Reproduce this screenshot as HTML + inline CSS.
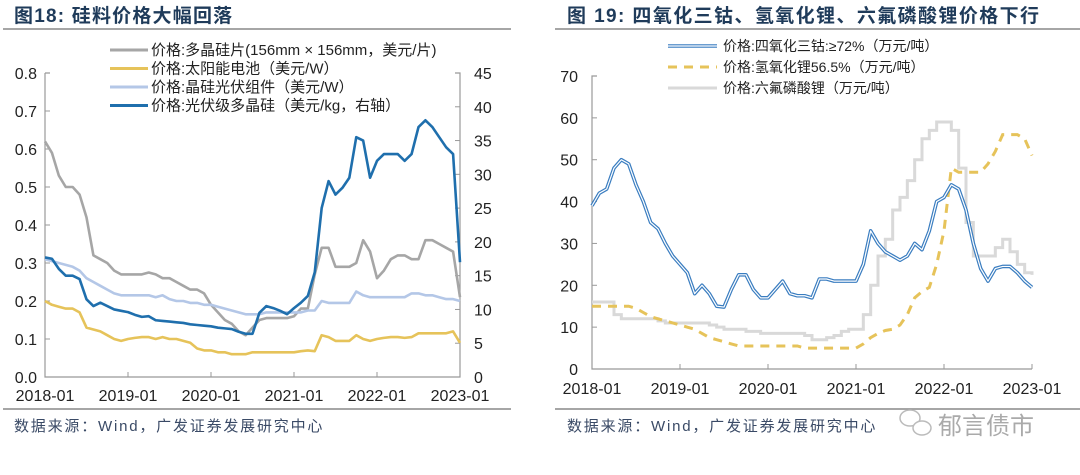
<!DOCTYPE html>
<html><head><meta charset="utf-8"><style>
body{margin:0;background:#fff;width:1080px;height:470px;overflow:hidden;font-family:"Liberation Sans","Noto Sans CJK SC",sans-serif}
svg text{font-family:"Liberation Sans","Noto Sans CJK SC",sans-serif}
</style></head><body>
<svg id="s" width="1080" height="470" xmlns="http://www.w3.org/2000/svg">
<text x="14" y="22" font-size="19" font-weight="bold" letter-spacing="1.2" fill="#1f3b5a">图18:  硅料价格大幅回落</text>
<line x1="3" y1="29" x2="511" y2="29" stroke="#888" stroke-width="1.5"/>
<line x1="3" y1="409" x2="511" y2="409" stroke="#888" stroke-width="1.5"/>
<text x="14" y="431" font-size="15" letter-spacing="1.8" fill="#3a4a66">数据来源：Wind，广发证券发展研究中心</text>
<text x="567" y="22" font-size="19" font-weight="bold" letter-spacing="1.4" fill="#1f3b5a">图 19:  四氧化三钴、氢氧化锂、六氟磷酸锂价格下行</text>
<line x1="555" y1="29" x2="1080" y2="29" stroke="#888" stroke-width="1.5"/>
<line x1="555" y1="409" x2="1080" y2="409" stroke="#888" stroke-width="1.5"/>
<text x="567" y="431" font-size="15" letter-spacing="1.8" fill="#3a4a66">数据来源：Wind，广发证券发展研究中心</text>
<g>
<ellipse cx="910" cy="418" rx="10" ry="8" fill="#fff" stroke="#bbb" stroke-width="1.5"/>
<ellipse cx="922" cy="428" rx="9" ry="7" fill="#fff" stroke="#bbb" stroke-width="1.5"/>
<text x="938" y="434" font-size="24" fill="#aaa">郁言债市</text>
</g>
<g id="c1"></g><g id="c2"></g>
</svg>
<script>
// Chart 1 data (monthly, 2018-01 .. 2023-01)
const c1Wafer=[0.62,0.59,0.53,0.50,0.50,0.48,0.42,0.32,0.31,0.30,0.28,0.27, 0.27,0.27,0.27,0.275,0.27,0.26,0.26,0.25,0.24,0.23,0.23,0.22, 0.19,0.17,0.15,0.14,0.12,0.11,0.13,0.15,0.155,0.155,0.155,0.155, 0.16,0.18,0.18,0.27,0.34,0.34,0.29,0.29,0.29,0.30,0.36,0.33, 0.26,0.28,0.31,0.32,0.32,0.31,0.31,0.36,0.36,0.35,0.34,0.33, 0.21];
const c1Cell=[0.20,0.19,0.185,0.18,0.18,0.17,0.13,0.125,0.12,0.11,0.10,0.095, 0.10,0.103,0.105,0.105,0.10,0.105,0.10,0.10,0.095,0.09,0.075,0.07, 0.07,0.065,0.065,0.06,0.06,0.06,0.065,0.065,0.065,0.065,0.065,0.065, 0.065,0.068,0.07,0.068,0.11,0.105,0.095,0.095,0.095,0.11,0.10,0.095, 0.10,0.103,0.105,0.105,0.103,0.105,0.115,0.115,0.115,0.115,0.115,0.12, 0.09];
const c1Module=[0.31,0.305,0.30,0.295,0.29,0.28,0.26,0.25,0.24,0.23,0.22,0.215, 0.215,0.215,0.215,0.215,0.21,0.215,0.205,0.20,0.20,0.195,0.195,0.19, 0.19,0.185,0.18,0.175,0.17,0.165,0.165,0.165,0.17,0.17,0.17,0.17, 0.17,0.17,0.175,0.175,0.20,0.195,0.195,0.195,0.195,0.225,0.215,0.21, 0.21,0.21,0.21,0.21,0.21,0.22,0.22,0.215,0.215,0.21,0.205,0.205, 0.20];
const c1Poly=[17.7,17.5,16,15,15,14.5,11.5,10.5,11,10.5,10,9.8, 9.6,9.2,8.9,9,8.4,8.3,8.2,8.1,8.0,7.8,7.7,7.6, 7.5,7.3,7.2,7.1,6.7,6.4,6.4,9.5,10.5,10.2,9.8,9.3, 10.2,11,12,15.5,25,29,27,28,29.5,35.5,35,29.5, 32,33,33,33,32,33,37,38,37,35.5,34,33, 17];
const c1LeftTicks=["0.0","0.1","0.2","0.3","0.4","0.5","0.6","0.7","0.8"];
const c1RightTicks=["0","5","10","15","20","25","30","35","40","45"];
const xLabels=["2018-01","2019-01","2020-01","2021-01","2022-01","2023-01"];
// Chart 2 data
const c2Cobalt=[39,42,43,48,50,49,44,40,35,33.5,30,27, 25,23,18,20,18,15,14.8,19,22.5,22.5,19,17, 17,19,21,18,17.5,17.5,17,21.5,21.5,21,21,21, 21,25,33,30,28,27,26,27,30,28.5,33,40, 41,44,43,38,30,24,21,24,24.5,24.5,23,21, 19.5];
const c2LiOH=[15,15,15,15,15,15,14.5,13.5,12.5,12,11.5,11, 10.5,10,9.5,8.5,7.5,7,6.5,6,5.5,5.5,5.5,5.5, 5.5,5.5,5.5,5.5,5.5,5,5,5,5,5,5,5, 5,6,7.5,8.5,9.2,9.5,10.5,13,17,18.5,19.5,25, 33,48,47,47,47,47,49,52,56,56,56,55, 51];
const c2LiPF6=[16,16,16,13,12,12,12,12,12,11.5,11,11, 11,11,11,11,10.5,10,9.5,9.5,9.5,9,9,8.5, 8.5,8.5,8.5,8.5,8.5,8,7,7,7.5,8,9,9.5, 9.5,13,20,27,31,38,41,45,50,55,57,59, 59,57,48,35,27,27,27,29,31,28,25,23, 22.5];
const c2Ticks=["0","10","20","30","40","50","60","70"];

const NS="http://www.w3.org/2000/svg";
function mk(parent,tag,attrs){const e=document.createElementNS(NS,tag);for(const k in attrs)e.setAttribute(k,attrs[k]);parent.appendChild(e);return e;}
function pathD(vals,xf,yf,step){let d="";vals.forEach((v,i)=>{const x=xf(i),y=yf(v);if(i===0)d="M"+x+","+y;else{if(step)d+=" H"+x;d+=" L"+x+","+y;}});return d;}

// ---- Chart 1
const g1=document.getElementById("c1");
const X0=45,X1=460,Yb=377,Yt=73;
const x1f=i=>X0+(X1-X0)*i/60;
const yL=v=>Yb-(Yb-Yt)*v/0.8;
const yR=v=>Yb-(Yb-Yt)*v/45;
let e=mk(g1,"path",{d:`M${X0},${Yt} H${X0+5} M${X0},${Yt} V${Yb} H${X1} V${Yt} H${X1-5}`,fill:"none",stroke:"#999","stroke-width":1.2});


c1LeftTicks.forEach((t,i)=>{const y=Yb-(Yb-Yt)*i/8;mk(g1,"line",{x1:X0,x2:X0+5,y1:y,y2:y,stroke:"#999"});
 const tx=mk(g1,"text",{x:X0-8,y:y+6,"font-size":16,"text-anchor":"end",fill:"#222"});tx.textContent=t;
 
 });
c1RightTicks.forEach((t,i)=>{const y=Yb-(Yb-Yt)*i/9;mk(g1,"line",{x1:X1-5,x2:X1,y1:y,y2:y,stroke:"#999"});
 const tx=mk(g1,"text",{x:X1+14,y:y+6,"font-size":16,fill:"#222"});tx.textContent=t;
 
 });
xLabels.forEach((t,i)=>{const x=X0+(X1-X0)*i/5;mk(g1,"line",{x1:x,x2:x,y1:Yb,y2:Yb-5,stroke:"#999"});
 const tx=mk(g1,"text",{x:x,y:Yb+24,"font-size":16,"text-anchor":"middle",fill:"#222"});tx.textContent=t;
 
 });
const s1=[[c1Wafer,yL,"#a6a6a6","series-wafer-price"],[c1Cell,yL,"#e6c35a","series-cell-price"],[c1Module,yL,"#b4c7e7","series-module-price"],[c1Poly,yR,"#1f6fad","series-polysilicon-price"]];
s1.forEach(([v,yf,c,n])=>{const p=mk(g1,"path",{d:pathD(v,x1f,yf,false),fill:"none",stroke:c,"stroke-width":2.6,"stroke-linejoin":"round"});
 
 });
const leg1=["价格:多晶硅片(156mm × 156mm，美元/片)","价格:太阳能电池（美元/W）","价格:晶硅光伏组件（美元/W）","价格:光伏级多晶硅（美元/kg，右轴）"];
leg1.forEach((t,i)=>{const y=50+i*18.5;mk(g1,"line",{x1:110,x2:148,y1:y,y2:y,stroke:s1[i][2],"stroke-width":3});
 const tx=mk(g1,"text",{x:151,y:y+5,"font-size":15,fill:"#222"});tx.textContent=t;
 
 });

// ---- Chart 2
const g2=document.getElementById("c2");
const A0=592,A1=1032,B0=369,B1=76;
const x2f=i=>A0+(A1-A0)*i/60;
const y2f=v=>B0-(B0-B1)*v/70;
e=mk(g2,"path",{d:`M${A0+5},${B1} H${A0} V${B0} H${A1}`,fill:"none",stroke:"#999","stroke-width":1.2});


c2Ticks.forEach((t,i)=>{const y=B0-(B0-B1)*i/7;mk(g2,"line",{x1:A0,x2:A0+5,y1:y,y2:y,stroke:"#999"});
 const tx=mk(g2,"text",{x:A0-14,y:y+6,"font-size":16,"text-anchor":"end",fill:"#222"});tx.textContent=t;
 
 });
xLabels.forEach((t,i)=>{const x=A0+(A1-A0)*i/5;mk(g2,"line",{x1:x,x2:x,y1:B0,y2:B0-5,stroke:"#999"});
 const tx=mk(g2,"text",{x:x,y:B0+25,"font-size":16,"text-anchor":"middle",fill:"#222"});tx.textContent=t;
 
 });
let p=mk(g2,"path",{d:pathD(c2LiPF6,x2f,y2f,true),fill:"none",stroke:"#d9d9d9","stroke-width":3});


p=mk(g2,"path",{d:pathD(c2LiOH,x2f,y2f,false),fill:"none",stroke:"#e6c35a","stroke-width":3,"stroke-dasharray":"9,7"});


p=mk(g2,"path",{d:pathD(c2Cobalt,x2f,y2f,false),fill:"none",stroke:"#3a7dc0","stroke-width":3.6,"stroke-linejoin":"round"});


mk(g2,"path",{d:pathD(c2Cobalt,x2f,y2f,false),fill:"none",stroke:"#fff","stroke-width":1.2,"stroke-linejoin":"round"});
const leg2=["价格:四氧化三钴:≥72%（万元/吨）","价格:氢氧化锂56.5%（万元/吨）","价格:六氟磷酸锂（万元/吨）"];
leg2.forEach((t,i)=>{const y=46+i*21;
 if(i===0){mk(g2,"line",{x1:668,x2:717,y1:y,y2:y,stroke:"#3a7dc0","stroke-width":3.6});mk(g2,"line",{x1:668,x2:717,y1:y,y2:y,stroke:"#fff","stroke-width":1.2});}
 else if(i===1)mk(g2,"line",{x1:668,x2:717,y1:y,y2:y,stroke:"#e6c35a","stroke-width":3,"stroke-dasharray":"9,7"});
 else mk(g2,"line",{x1:668,x2:717,y1:y,y2:y,stroke:"#d9d9d9","stroke-width":3});
 const tx=mk(g2,"text",{x:723,y:y+5,"font-size":14,fill:"#222"});tx.textContent=t;
 
 });
</script>
</body></html>
